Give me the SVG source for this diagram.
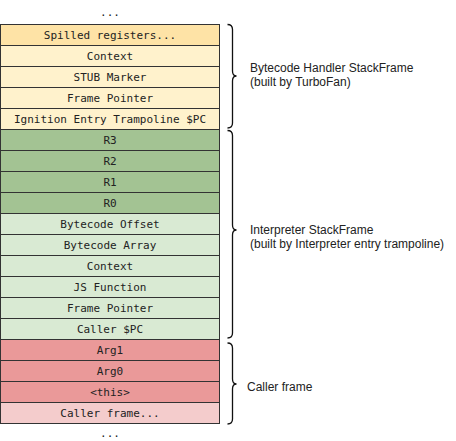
<svg xmlns="http://www.w3.org/2000/svg" width="456" height="441" viewBox="0 0 456 441">
<style>
.cell{stroke:#333;stroke-width:1}
.mono{font-family:"DejaVu Sans Mono",monospace;font-size:11px;fill:#222;text-anchor:middle}
.lbl{font-family:"Liberation Sans",Arial,sans-serif;font-size:12px;fill:#222}
.brace{fill:none;stroke:#111;stroke-width:1.3}
.spill{fill:#fee3a6}.yel{fill:#fff2cc}.dg{fill:#a3c393}.lg{fill:#d9ead3}.red{fill:#ea9999}.lr{fill:#f4cccc}
</style>
<rect width="456" height="441" fill="#fff"/>
<text class="mono" x="110" y="16">...</text>
<g id="handler-frame">
<rect class="cell spill" x="0.5" y="24.5" width="219" height="21"/><text class="mono" x="110" y="39">Spilled registers...</text>
<rect class="cell yel" x="0.5" y="45.5" width="219" height="21"/><text class="mono" x="110" y="60">Context</text>
<rect class="cell yel" x="0.5" y="66.5" width="219" height="21"/><text class="mono" x="110" y="81">STUB Marker</text>
<rect class="cell yel" x="0.5" y="87.5" width="219" height="21"/><text class="mono" x="110" y="102">Frame Pointer</text>
<rect class="cell yel" x="0.5" y="108.5" width="219" height="21"/><text class="mono" x="110" y="123">Ignition Entry Trampoline $PC</text>
</g>
<g id="interpreter-frame">
<rect class="cell dg" x="0.5" y="129.5" width="219" height="21"/><text class="mono" x="110" y="144">R3</text>
<rect class="cell dg" x="0.5" y="150.5" width="219" height="21"/><text class="mono" x="110" y="165">R2</text>
<rect class="cell dg" x="0.5" y="171.5" width="219" height="21"/><text class="mono" x="110" y="186">R1</text>
<rect class="cell dg" x="0.5" y="192.5" width="219" height="21"/><text class="mono" x="110" y="207">R0</text>
<rect class="cell lg" x="0.5" y="213.5" width="219" height="21"/><text class="mono" x="110" y="228">Bytecode Offset</text>
<rect class="cell lg" x="0.5" y="234.5" width="219" height="21"/><text class="mono" x="110" y="249">Bytecode Array</text>
<rect class="cell lg" x="0.5" y="255.5" width="219" height="21"/><text class="mono" x="110" y="270">Context</text>
<rect class="cell lg" x="0.5" y="276.5" width="219" height="21"/><text class="mono" x="110" y="291">JS Function</text>
<rect class="cell lg" x="0.5" y="297.5" width="219" height="21"/><text class="mono" x="110" y="312">Frame Pointer</text>
<rect class="cell lg" x="0.5" y="318.5" width="219" height="21"/><text class="mono" x="110" y="333">Caller $PC</text>
</g>
<g id="caller-frame">
<rect class="cell red" x="0.5" y="339.5" width="219" height="21"/><text class="mono" x="110" y="354">Arg1</text>
<rect class="cell red" x="0.5" y="360.5" width="219" height="21"/><text class="mono" x="110" y="375">Arg0</text>
<rect class="cell red" x="0.5" y="381.5" width="219" height="21"/><text class="mono" x="110" y="396">&lt;this&gt;</text>
<rect class="cell lr" x="0.5" y="402.5" width="219" height="21"/><text class="mono" x="110" y="417">Caller frame...</text>
</g>
<text class="mono" x="110" y="437">...</text>
<g id="braces">
<path class="brace" d="M227.5,24.5 Q232.5,24.5 232.5,29.5 L232.5,71 Q232.5,76 236.5,76 Q232.5,76 232.5,81 L232.5,123 Q232.5,128 227.5,128"/>
<path class="brace" d="M227.5,130.5 Q232.5,130.5 232.5,135.5 L232.5,225 Q232.5,230 236.5,230 Q232.5,230 232.5,235 L232.5,333 Q232.5,338 227.5,338"/>
<path class="brace" d="M227.5,343 Q232.5,343 232.5,348 L232.5,379 Q232.5,384 236.5,384 Q232.5,384 232.5,389 L232.5,419 Q232.5,424 227.5,424"/>
</g>
<g id="labels">
<text class="lbl" x="250" y="72">Bytecode Handler StackFrame</text>
<text class="lbl" x="250" y="86">(built by TurboFan)</text>
<text class="lbl" x="250" y="234">Interpreter StackFrame</text>
<text class="lbl" x="250" y="248">(built by Interpreter entry trampoline)</text>
<text class="lbl" x="247" y="391">Caller frame</text>
</g>
</svg>
